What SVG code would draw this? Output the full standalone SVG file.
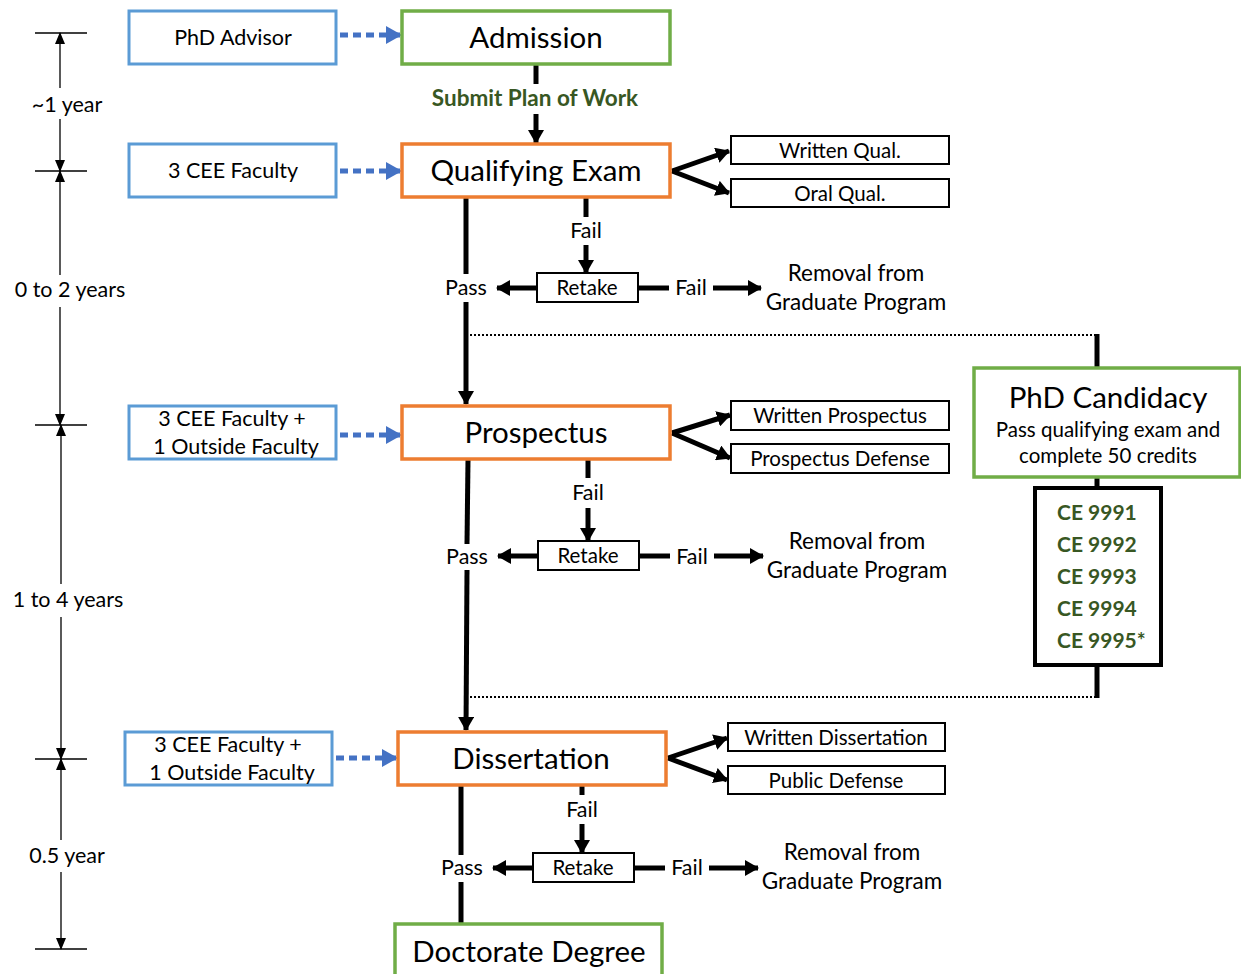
<svg xmlns="http://www.w3.org/2000/svg" width="1241" height="974" viewBox="0 0 1241 974">
<defs>
<style>
text{font-family:Lato,"Open Sans","Liberation Sans",sans-serif;fill:#000;text-anchor:middle;dominant-baseline:central;transform:translateY(-1.5px)}
.big{font-size:29.5px}
.med{font-size:21.5px}
.sm{font-size:20.5px}
.rem{font-size:22.5px}
.grn{font-weight:bold;fill:#385723;font-size:22.5px}
.ce{font-weight:bold;fill:#385723;font-size:21px;text-anchor:start}
.fac{fill:#fff;stroke:#5B9BD5;stroke-width:3}
.stage{fill:#fff;stroke:#ED7D31;stroke-width:3.5}
.goal{fill:#fff;stroke:#70AD47;stroke-width:3.5}
.sub{fill:#fff;stroke:#000;stroke-width:2}
.thick{stroke:#000;stroke-width:5;fill:none}
.thin{stroke:#000;stroke-width:1.3;fill:none}
.dotb{stroke:#4472C4;stroke-width:5;stroke-dasharray:8 5;fill:none}
.dotk{stroke:#000;stroke-width:2;stroke-dasharray:2 2;fill:none}
</style>
<marker id="ah" markerUnits="userSpaceOnUse" markerWidth="14" markerHeight="16" refX="13" refY="8" orient="auto"><path d="M0,0 L14,8 L0,16 z" fill="#000"/></marker>
<marker id="ahs" markerUnits="userSpaceOnUse" markerWidth="12" markerHeight="10" refX="11" refY="5" orient="auto"><path d="M0,0 L12,5 L0,10 z" fill="#000"/></marker>
<marker id="ahb" markerUnits="userSpaceOnUse" markerWidth="16" markerHeight="18" refX="15" refY="9" orient="auto"><path d="M0,0 L16,9 L0,18 z" fill="#4472C4"/></marker>
</defs>
<rect width="1241" height="974" fill="#fff"/>

<g id="timeline">
<line class="thin" x1="35" y1="33" x2="87" y2="33"/>
<line class="thin" x1="35" y1="171" x2="87" y2="171"/>
<line class="thin" x1="35" y1="425" x2="87" y2="425"/>
<line class="thin" x1="35" y1="759" x2="87" y2="759"/>
<line class="thin" x1="35" y1="949" x2="87" y2="949"/>
<line class="thin" x1="60" y1="88" x2="60" y2="33" marker-end="url(#ahs)"/>
<line class="thin" x1="60" y1="119" x2="60" y2="171" marker-end="url(#ahs)"/>
<line class="thin" x1="60" y1="275" x2="60" y2="171" marker-end="url(#ahs)"/>
<line class="thin" x1="60" y1="307" x2="60" y2="425" marker-end="url(#ahs)"/>
<line class="thin" x1="61" y1="584" x2="61" y2="425" marker-end="url(#ahs)"/>
<line class="thin" x1="61" y1="617" x2="61" y2="759" marker-end="url(#ahs)"/>
<line class="thin" x1="61" y1="840" x2="61" y2="759" marker-end="url(#ahs)"/>
<line class="thin" x1="61" y1="872" x2="61" y2="949" marker-end="url(#ahs)"/>
<text class="med" x="67" y="105">~1 year</text>
<text class="med" x="70" y="290">0 to 2 years</text>
<text class="med" x="68" y="600">1 to 4 years</text>
<text class="med" x="67" y="856">0.5 year</text>
</g>

<g id="connectors">
<line class="dotb" x1="340" y1="35" x2="401" y2="35" marker-end="url(#ahb)"/>
<line class="dotb" x1="340" y1="171" x2="401" y2="171" marker-end="url(#ahb)"/>
<line class="dotb" x1="340" y1="435" x2="401" y2="435" marker-end="url(#ahb)"/>
<line class="dotb" x1="336" y1="758" x2="397" y2="758" marker-end="url(#ahb)"/>

<line class="thick" x1="536" y1="64" x2="536" y2="84"/>
<line class="thick" x1="536" y1="114" x2="536" y2="143" marker-end="url(#ah)"/>

<line class="thick" x1="672" y1="171" x2="729" y2="151" marker-end="url(#ah)"/>
<line class="thick" x1="672" y1="171" x2="729" y2="193" marker-end="url(#ah)"/>
<line class="thick" x1="466" y1="197" x2="466" y2="274"/>
<line class="thick" x1="466" y1="302" x2="466" y2="404" marker-end="url(#ah)"/>
<line class="thick" x1="586" y1="197" x2="586" y2="217"/>
<line class="thick" x1="586" y1="245" x2="586" y2="273" marker-end="url(#ah)"/>
<line class="thick" x1="537" y1="288" x2="497" y2="288" marker-end="url(#ah)"/>
<line class="thick" x1="638" y1="288" x2="669" y2="288"/>
<line class="thick" x1="713" y1="288" x2="761" y2="288" marker-end="url(#ah)"/>

<line class="dotk" x1="470" y1="335" x2="1097" y2="335"/>
<line class="thick" x1="1097" y1="334" x2="1097" y2="368"/>
<line class="thick" x1="1097" y1="477" x2="1097" y2="488"/>
<line class="thick" x1="1097" y1="665" x2="1097" y2="698"/>
<line class="dotk" x1="470" y1="697" x2="1097" y2="697"/>

<line class="thick" x1="672" y1="433" x2="730" y2="415" marker-end="url(#ah)"/>
<line class="thick" x1="672" y1="433" x2="730" y2="458" marker-end="url(#ah)"/>
<line class="thick" x1="468" y1="460" x2="467" y2="544"/>
<line class="thick" x1="467" y1="570" x2="466" y2="730" marker-end="url(#ah)"/>
<line class="thick" x1="588" y1="459" x2="588" y2="478"/>
<line class="thick" x1="588" y1="508" x2="588" y2="541" marker-end="url(#ah)"/>
<line class="thick" x1="538" y1="556" x2="498" y2="556" marker-end="url(#ah)"/>
<line class="thick" x1="639" y1="556" x2="670" y2="556"/>
<line class="thick" x1="714" y1="556" x2="763" y2="556" marker-end="url(#ah)"/>

<line class="thick" x1="668" y1="758" x2="727" y2="738" marker-end="url(#ah)"/>
<line class="thick" x1="668" y1="758" x2="727" y2="780" marker-end="url(#ah)"/>
<line class="thick" x1="461" y1="785" x2="461" y2="855"/>
<line class="thick" x1="461" y1="882" x2="461" y2="923"/>
<line class="thick" x1="582" y1="785" x2="582" y2="795"/>
<line class="thick" x1="582" y1="824" x2="582" y2="853" marker-end="url(#ah)"/>
<line class="thick" x1="533" y1="868" x2="493" y2="868" marker-end="url(#ah)"/>
<line class="thick" x1="634" y1="868" x2="665" y2="868"/>
<line class="thick" x1="709" y1="868" x2="758" y2="868" marker-end="url(#ah)"/>

<text class="grn" x="535" y="99">Submit Plan of Work</text>
<text class="med" x="586" y="231">Fail</text>
<text class="med" x="466" y="288">Pass</text>
<text class="med" x="691" y="288">Fail</text>
<text class="med" x="588" y="493">Fail</text>
<text class="med" x="467" y="557">Pass</text>
<text class="med" x="692" y="557">Fail</text>
<text class="med" x="582" y="810">Fail</text>
<text class="med" x="462" y="868">Pass</text>
<text class="med" x="687" y="868">Fail</text>
</g>

<g id="phd-advisor"><rect class="fac" x="129" y="11" width="207" height="53"/><text class="med" x="233" y="38">PhD Advisor</text></g>
<g id="qe-faculty"><rect class="fac" x="129" y="144" width="207" height="53"/><text class="med" x="233" y="171">3 CEE Faculty</text></g>
<g id="prospectus-faculty"><rect class="fac" x="129" y="406" width="207" height="53"/><text class="med" x="232" y="419">3 CEE Faculty +</text><text class="med" x="236" y="447">1 Outside Faculty</text></g>
<g id="dissertation-faculty"><rect class="fac" x="125" y="732" width="207" height="53"/><text class="med" x="228" y="745">3 CEE Faculty +</text><text class="med" x="232" y="773">1 Outside Faculty</text></g>

<g id="admission"><rect class="goal" x="402" y="11" width="268" height="53"/><text class="big" x="536" y="38">Admission</text></g>
<g id="qualifying-exam"><rect class="stage" x="402" y="144" width="268" height="53"/><text class="big" x="536" y="171">Qualifying Exam</text></g>
<g id="written-qual"><rect class="sub" x="731" y="136" width="218" height="28"/><text class="sm" x="840" y="151">Written Qual.</text></g>
<g id="oral-qual"><rect class="sub" x="731" y="179" width="218" height="28"/><text class="sm" x="840" y="194">Oral Qual.</text></g>
<g id="retake-1"><rect class="sub" x="537" y="273" width="101" height="29"/><text class="sm" x="587" y="288">Retake</text></g>
<g id="removal-1"><text class="rem" x="856" y="274">Removal from</text><text class="rem" x="856" y="303">Graduate Program</text></g>

<g id="candidacy"><rect class="goal" x="974" y="368" width="266" height="109"/><text class="big" x="1108" y="398">PhD Candidacy</text><text class="sm" x="1108" y="430">Pass qualifying exam and</text><text class="sm" x="1108" y="456">complete 50 credits</text></g>
<g id="ce-courses"><rect x="1035" y="488" width="126" height="177" fill="#fff" stroke="#000" stroke-width="4"/>
<text class="ce" x="1057" y="513">CE 9991</text>
<text class="ce" x="1057" y="545">CE 9992</text>
<text class="ce" x="1057" y="577">CE 9993</text>
<text class="ce" x="1057" y="609">CE 9994</text>
<text class="ce" x="1057" y="641">CE 9995*</text></g>

<g id="prospectus"><rect class="stage" x="402" y="406" width="268" height="53"/><text class="big" x="536" y="433">Prospectus</text></g>
<g id="written-prospectus"><rect class="sub" x="731" y="401" width="218" height="29"/><text class="sm" x="840" y="416">Written Prospectus</text></g>
<g id="prospectus-defense"><rect class="sub" x="731" y="444" width="218" height="29"/><text class="sm" x="840" y="459">Prospectus Defense</text></g>
<g id="retake-2"><rect class="sub" x="538" y="541" width="101" height="29"/><text class="sm" x="588" y="556">Retake</text></g>
<g id="removal-2"><text class="rem" x="857" y="542">Removal from</text><text class="rem" x="857" y="571">Graduate Program</text></g>

<g id="dissertation"><rect class="stage" x="398" y="732" width="268" height="53"/><text class="big" x="531" y="759">Dissertation</text></g>
<g id="written-dissertation"><rect class="sub" x="728" y="723" width="217" height="28"/><text class="sm" x="836" y="738">Written Dissertation</text></g>
<g id="public-defense"><rect class="sub" x="728" y="766" width="217" height="28"/><text class="sm" x="836" y="781">Public Defense</text></g>
<g id="retake-3"><rect class="sub" x="533" y="853" width="101" height="29"/><text class="sm" x="583" y="868">Retake</text></g>
<g id="removal-3"><text class="rem" x="852" y="853">Removal from</text><text class="rem" x="852" y="882">Graduate Program</text></g>

<g id="doctorate"><rect class="goal" x="395" y="924" width="267" height="60"/><text class="big" x="529" y="952">Doctorate Degree</text></g>
</svg>
